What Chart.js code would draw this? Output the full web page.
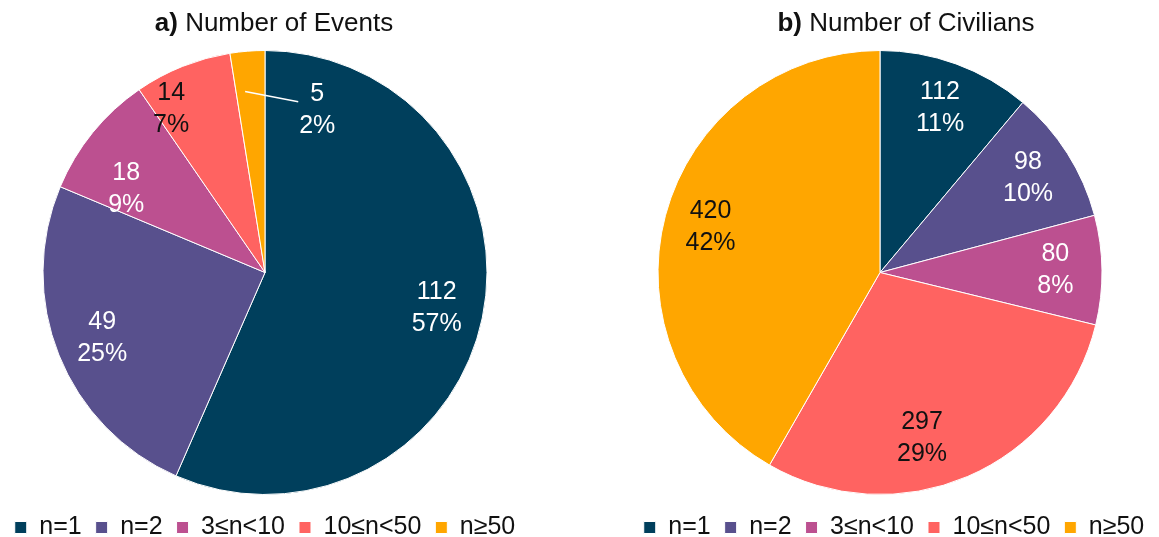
<!DOCTYPE html>
<html>
<head>
<meta charset="utf-8">
<script src="https://cdn.jsdelivr.net/npm/chart.js@4.4.0/dist/chart.umd.min.js"></script>
<style>
  html, body { margin: 0; padding: 0; background: #fff; overflow: hidden; }
  #contenedor { position: relative; width: 1159px; height: 537px; overflow: hidden; }
  .panel { position: absolute; top: 0; height: 550px; }
</style>
</head>
<body>
<div id="contenedor">
  <div class="panel" style="left:0; width:530px;"><canvas id="graficaEventos"></canvas></div>
  <div class="panel" style="left:615px; width:544px;"><canvas id="graficaCiviles"></canvas></div>
</div>
<script>
// Datos de las dos gráficas
const categorias = ['n=1', 'n=2', '3≤n<10', '10≤n<50', 'n≥50'];
const eventos = [112, 49, 18, 14, 5];
const civiles = [112, 98, 80, 297, 420];

// Estilos
const colores = ['#003f5c', '#58508d', '#bc5090', '#ff6361', '#ffa600'];
const colorTexto = ['#ffffff', '#ffffff', '#ffffff', '#111111', '#111111'];
const fuente = '"Liberation Sans", Arial, sans-serif';

// Porcentajes enteros que suman 100 (método del mayor resto)
function porcentajes(valores) {
  const total = valores.reduce((a, b) => a + b, 0);
  const crudos = valores.map(v => v * 100 / total);
  const enteros = crudos.map(Math.floor);
  let falta = 100 - enteros.reduce((a, b) => a + b, 0);
  const orden = crudos.map((c, i) => [c - Math.floor(c), i]).sort((a, b) => b[0] - a[0]);
  for (let k = 0; k < falta; k++) enteros[orden[k][1]]++;
  return enteros;
}

// Título con la letra en negrita
const titulo = {
  id: 'titulo',
  afterDraw(chart, args, opts) {
    const ctx = chart.ctx;
    ctx.save();
    ctx.fillStyle = '#111111';
    ctx.textBaseline = 'middle';
    ctx.textAlign = 'left';
    ctx.font = 'bold 26px ' + fuente;
    const wa = ctx.measureText(opts.letra + ' ').width;
    ctx.font = '26px ' + fuente;
    const wb = ctx.measureText(opts.texto).width;
    const cx = (chart.chartArea.left + chart.chartArea.right) / 2 + opts.dx;
    const x0 = cx - (wa + wb) / 2;
    ctx.font = 'bold 26px ' + fuente;
    ctx.fillText(opts.letra, x0, 24);
    ctx.font = '26px ' + fuente;
    ctx.fillText(opts.texto, x0 + wa, 24);
    ctx.restore();
  }
};

// Etiquetas de valor y porcentaje dentro de cada sector
const etiquetas = {
  id: 'etiquetas',
  afterDatasetsDraw(chart, args, opts) {
    const ctx = chart.ctx;
    const meta = chart.getDatasetMeta(0);
    const datos = chart.data.datasets[0].data;
    const pct = porcentajes(datos);
    const ajustes = opts.ajustes || {};
    ctx.save();
    ctx.font = '25px ' + fuente;
    ctx.textAlign = 'center';
    ctx.textBaseline = 'middle';
    meta.data.forEach((arc, i) => {
      const p = arc.getProps(['x', 'y', 'startAngle', 'endAngle', 'outerRadius'], true);
      const medio = (p.startAngle + p.endAngle) / 2;
      const aj = ajustes[i] || {};
      let ang = medio + (aj.da || 0) * Math.PI / 180;
      let r = p.outerRadius * (aj.fr || 0.79);
      let color = colorTexto[i];
      if (p.endAngle - p.startAngle < 0.3) {
        // sector pequeño: etiqueta desplazada con línea guía
        ang = medio + 0.39;
        r = p.outerRadius * 0.77;
        color = colorTexto[(i + 1) % datos.length];
        const lx = p.x + r * Math.cos(ang);
        const ly = p.y + r * Math.sin(ang);
        const gx = p.x + p.outerRadius * 0.82 * Math.cos(medio - 0.03);
        const gy = p.y + p.outerRadius * 0.82 * Math.sin(medio - 0.03);
        ctx.strokeStyle = '#ffffff';
        ctx.lineWidth = 1.5;
        ctx.beginPath();
        ctx.moveTo(gx, gy);
        ctx.lineTo(lx - 19, ly - 8);
        ctx.stroke();
      }
      const x = p.x + r * Math.cos(ang);
      const y = p.y + r * Math.sin(ang);
      ctx.fillStyle = color;
      ctx.fillText(String(datos[i]), x, y - 16);
      ctx.fillText(pct[i] + '%', x, y + 16);
    });
    ctx.restore();
  }
};

// Desplaza la leyenda horizontalmente
const moverLeyenda = {
  id: 'moverLeyenda',
  afterLayout(chart, args, opts) {
    if (chart.legend && opts.dx) {
      chart.legend.left += opts.dx;
      chart.legend.right += opts.dx;
    }
  }
};

function crearGrafica(id, valores, letra, texto, dxTitulo, padDer, dxLeyenda, ajustes) {
  return new Chart(document.getElementById(id), {
    type: 'pie',
    data: {
      labels: categorias,
      datasets: [{
        data: valores,
        backgroundColor: colores,
        borderColor: '#ffffff',
        borderWidth: 1,
        radius: 222
      }]
    },
    options: {
      responsive: true,
      maintainAspectRatio: false,
      animation: false,
      layout: { padding: { top: 44, right: padDer } },
      plugins: {
        tooltip: { enabled: false },
        legend: {
          position: 'bottom',
          labels: {
            boxWidth: 12,
            boxHeight: 12,
            padding: 14,
            color: '#111111',
            font: { family: fuente, size: 25 }
          }
        },
        titulo: { letra: letra, texto: texto, dx: dxTitulo },
        etiquetas: { ajustes: ajustes },
        moverLeyenda: { dx: dxLeyenda }
      }
    },
    plugins: [titulo, etiquetas, moverLeyenda]
  });
}

crearGrafica('graficaEventos', eventos, 'a)', 'Number of Events', 9, 0, 0,
  { 2: { da: -8, fr: 0.73 }, 3: { da: -8, fr: 0.85 } });
crearGrafica('graficaCiviles', civiles, 'b)', 'Number of Civilians', 26, 14, 14,
  { 3: { da: 9, fr: 0.77 } });
</script>
</body>
</html>
